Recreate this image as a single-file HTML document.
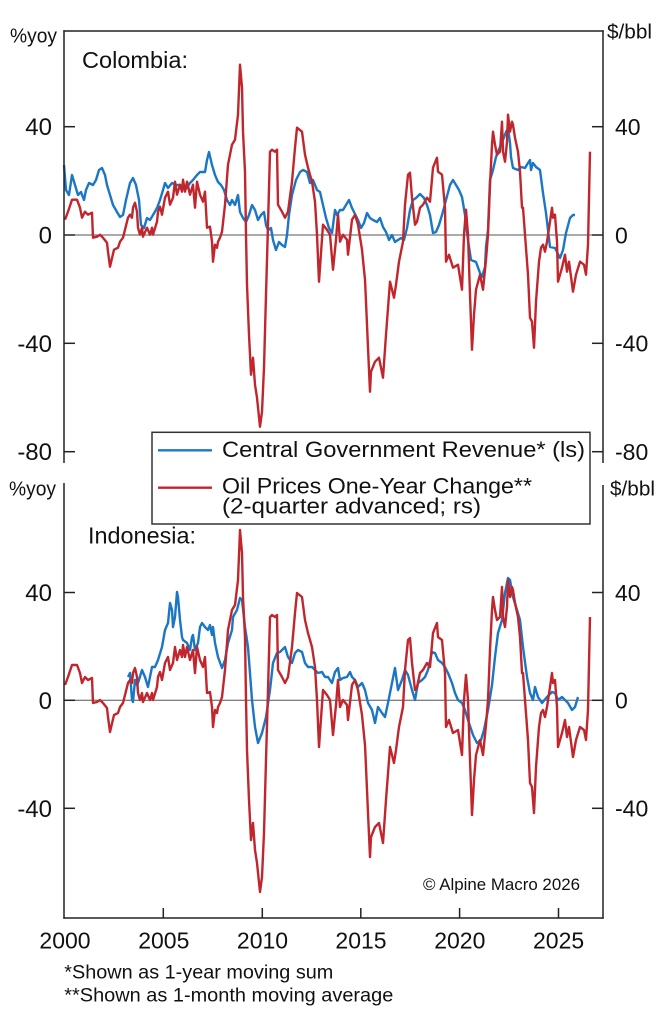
<!DOCTYPE html>
<html>
<head>
<meta charset="utf-8">
<style>
html,body{margin:0;padding:0;background:#fff;}
svg{display:block;}
text{font-family:"Liberation Sans",Arial,sans-serif;fill:#111;}
</style>
</head>
<body>
<svg width="666" height="1024" viewBox="0 0 666 1024" xmlns="http://www.w3.org/2000/svg">
<rect x="0" y="0" width="666" height="1024" fill="#fff"/>

<!-- ===== TOP PANEL (Colombia) ===== -->
<line x1="64" y1="235" x2="603" y2="235" stroke="#555" stroke-width="1"/>

<!-- Colombia blue -->
<polyline fill="none" stroke="#1b77c4" stroke-width="2.4" stroke-linejoin="round" points="64,165 66,190 69,195 72,175 75,185 78,195 81,192 84,200 86,190 89,183 93,185 96,180 99,170 102,168 105,175 107,185 110,195 113,205 117,212 120,217 123,215 126,200 130,183 133,178 136,185 139,200 141,225 144,228 147,218 150,220 153,215 157,208 160,200 163,190 165,183 168,188 172,183 176,185 180,185 185,190 190,183 193,180 197,175 200,172 205,172 207,160 209,152 212,165 215,175 218,182 221,185 224,190 227,200 230,205 232,200 235,205 238,195 240,212 243,218 246,222 249,215 252,205 255,210 258,220 261,215 264,212 266,225 268,230 271,228 273,240 276,250 279,242 282,245 285,247 287,235 289,215 292,195 296,180 300,172 303,170 307,172 310,183 313,180 317,190 320,192 323,205 326,218 329,228 332,233 335,210 337,215 340,210 343,210 346,205 349,200 352,208 355,214 358,220 361,228 364,223 367,213 370,218 373,220 377,222 380,218 383,227 386,232 389,240 392,235 395,242 398,240 401,238 404,240 407,228 410,210 413,200 416,198 420,194 424,198 427,205 430,215 433,233 436,232 439,225 442,215 446,200 450,185 453,180 456,185 459,190 462,197 465,215 468,240 471,260 476,262 480,273 482,277 485,267 486,247 488,230 490,180 493,170 496,157 500,147 503,140 506,132 508,128 510,143 511,157 513,168 518,170 521,167 525,168 528,163 530,160 531,170 533,163 536,167 540,170 543,193 546,213 550,247 555,248 560,258 563,250 566,233 570,218 573,215 575,215"/>

<!-- Oil red (top) -->
<g transform="translate(0,-465.3)">
<polyline fill="none" stroke="#c1262d" stroke-width="2.4" stroke-linejoin="round" points="65,685 68,677 72,665 77,665 80,673 82,683 85,677 88,680 92,678 93,703 97,702 100,700 103,703 107,708 108,717 110,732 114,715 118,713 120,707 123,703 125,695 128,683 130,680 132,683 133,673 135,668 137,677 138,693 140,700 142,693 143,702 147,693 150,700 152,693 153,700 157,687 158,677 160,672 162,680 165,663 168,657 170,670 173,663 175,647 177,660 180,650 182,657 183,645 185,657 187,647 190,660 193,650 195,673 197,647 200,660 203,667 205,657 207,693 210,692 212,707 213,727 215,710 217,713 218,707 220,703 222,697 225,670 228,630 232,610 235,605 238,580 240,530 242,553 243,597 245,637 246,700 247,750 249,800 251,840 253,823 255,850 257,863 260,892 262,877 264,833 266,760 268,690 270,617 272,615 275,617 277,615 278,670 282,677 285,683 288,677 292,647 295,613 297,593 302,597 305,620 308,633 312,647 315,667 317,700 319,747 323,690 327,695 330,700 333,735 336,705 338,680 340,707 343,700 347,705 348,720 352,685 355,680 358,690 362,715 365,745 366,767 368,813 370,857 371,837 375,827 379,823 383,843 386,800 390,747 394,763 396,750 399,727 403,707 405,670 408,640 410,638 412,663 415,690 417,687 420,673 423,670 427,663 430,667 433,633 437,623 438,637 442,640 445,673 446,727 449,720 453,733 458,730 462,755 464,700 466,675 468,700 470,760 472,815 474,780 476,755 480,740 483,755 486,725 488,700 490,650 492,610 493,597 495,610 497,620 500,617 502,587 503,617 505,627 507,607 508,580 510,597 512,587 513,590 515,603 518,617 520,637 522,673 523,673 525,700 528,740 530,783 532,787 534,813 536,767 539,727 541,713 543,710 545,717 547,707 550,687 552,673 553,683 555,680 557,707 558,747 562,733 565,720 567,737 569,727 573,757 576,740 580,727 584,730 586,740 588,710 590,617"/>
</g>

<!-- top axes -->
<g stroke="#222" stroke-width="1.5" fill="none">
<line x1="63.3" y1="31" x2="603.7" y2="31"/>
<line x1="64" y1="30.3" x2="64" y2="463"/>
<line x1="603" y1="30.3" x2="603" y2="463"/>
<line x1="64" y1="126.7" x2="75" y2="126.7"/>
<line x1="64" y1="235" x2="75" y2="235"/>
<line x1="64" y1="343.3" x2="75" y2="343.3"/>
<line x1="64" y1="451.7" x2="75" y2="451.7"/>
<line x1="592" y1="126.7" x2="603" y2="126.7"/>
<line x1="592" y1="235" x2="603" y2="235"/>
<line x1="592" y1="343.3" x2="603" y2="343.3"/>
<line x1="592" y1="451.7" x2="603" y2="451.7"/>
</g>

<text x="10" y="42.5" font-size="20" textLength="47" lengthAdjust="spacingAndGlyphs">%yoy</text>
<text x="607" y="38.5" font-size="20" textLength="45" lengthAdjust="spacingAndGlyphs">$/bbl</text>
<text x="82" y="68" font-size="23" textLength="106" lengthAdjust="spacingAndGlyphs">Colombia:</text>

<g font-size="24" text-anchor="end">
<text x="52" y="135.2">40</text>
<text x="52" y="243.5">0</text>
<text x="52" y="351.8">-40</text>
<text x="52" y="460.2">-80</text>
</g>
<g font-size="23">
<text x="615" y="135">40</text>
<text x="615" y="243.3">0</text>
<text x="615" y="351.6">-40</text>
<text x="615" y="460">-80</text>
</g>

<!-- ===== BOTTOM PANEL (Indonesia) ===== -->
<line x1="64" y1="700.3" x2="603" y2="700.3" stroke="#555" stroke-width="1"/>

<!-- Indonesia blue -->
<polyline fill="none" stroke="#1b77c4" stroke-width="2.4" stroke-linejoin="round" points="128,677 130,673 132,700 133,702 135,680 137,685 138,683 142,670 145,677 148,687 152,667 155,667 158,660 162,647 165,630 168,623 170,603 172,610 173,627 175,617 177,592 178,597 180,620 182,637 183,640 187,643 190,650 192,637 193,635 195,650 198,643 200,627 202,623 205,627 208,630 210,625 212,635 213,627 215,643 218,657 222,668 225,660 228,643 232,630 233,617 237,610 240,598 242,600 245,627 248,647 252,700 255,727 258,743 262,733 266,717 270,690 273,663 277,653 280,652 285,647 288,657 292,663 295,653 298,650 302,652 305,663 308,667 312,667 315,670 318,673 322,672 325,677 328,677 332,683 335,672 338,668 340,680 343,678 347,677 350,672 352,677 355,680 358,687 362,683 365,690 368,703 372,710 375,723 378,707 382,713 385,717 388,703 392,683 395,668 398,690 402,680 405,670 408,675 412,690 415,700 418,683 422,680 425,677 428,670 432,652 435,653 438,660 442,663 445,667 448,673 452,683 455,693 458,700 462,703 465,710 468,720 473,735 477,743 481,740 484,730 488,710 492,685 495,657 498,633 502,620 505,593 508,578 510,580 513,597 517,610 520,620 523,647 527,677 530,693 533,700 535,687 538,697 542,703 547,697 552,692 555,693 558,700 562,697 565,700 568,703 572,710 575,707 578,697"/>

<!-- Oil red (bottom) -->
<polyline fill="none" stroke="#c1262d" stroke-width="2.4" stroke-linejoin="round" points="65,685 68,677 72,665 77,665 80,673 82,683 85,677 88,680 92,678 93,703 97,702 100,700 103,703 107,708 108,717 110,732 114,715 118,713 120,707 123,703 125,695 128,683 130,680 132,683 133,673 135,668 137,677 138,693 140,700 142,693 143,702 147,693 150,700 152,693 153,700 157,687 158,677 160,672 162,680 165,663 168,657 170,670 173,663 175,647 177,660 180,650 182,657 183,645 185,657 187,647 190,660 193,650 195,673 197,647 200,660 203,667 205,657 207,693 210,692 212,707 213,727 215,710 217,713 218,707 220,703 222,697 225,670 228,630 232,610 235,605 238,580 240,530 242,553 243,597 245,637 246,700 247,750 249,800 251,840 253,823 255,850 257,863 260,892 262,877 264,833 266,760 268,690 270,617 272,615 275,617 277,615 278,670 282,677 285,683 288,677 292,647 295,613 297,593 302,597 305,620 308,633 312,647 315,667 317,700 319,747 323,690 327,695 330,700 333,735 336,705 338,680 340,707 343,700 347,705 348,720 352,685 355,680 358,690 362,715 365,745 366,767 368,813 370,857 371,837 375,827 379,823 383,843 386,800 390,747 394,763 396,750 399,727 403,707 405,670 408,640 410,638 412,663 415,690 417,687 420,673 423,670 427,663 430,667 433,633 437,623 438,637 442,640 445,673 446,727 449,720 453,733 458,730 462,755 464,700 466,675 468,700 470,760 472,815 474,780 476,755 480,740 483,755 486,725 488,700 490,650 492,610 493,597 495,610 497,620 500,617 502,587 503,617 505,627 507,607 508,580 510,597 512,587 513,590 515,603 518,617 520,637 522,673 523,673 525,700 528,740 530,783 532,787 534,813 536,767 539,727 541,713 543,710 545,717 547,707 550,687 552,673 553,683 555,680 557,707 558,747 562,733 565,720 567,737 569,727 573,757 576,740 580,727 584,730 586,740 588,710 590,617"/>

<!-- bottom axes -->
<g stroke="#222" stroke-width="1.5" fill="none">
<line x1="64" y1="483" x2="64" y2="918.7"/>
<line x1="603" y1="485" x2="603" y2="918.7"/>
<line x1="63.3" y1="918" x2="603.7" y2="918"/>
<line x1="64" y1="592.5" x2="75" y2="592.5"/>
<line x1="64" y1="700.3" x2="75" y2="700.3"/>
<line x1="64" y1="808.3" x2="75" y2="808.3"/>
<line x1="592" y1="592.5" x2="603" y2="592.5"/>
<line x1="592" y1="700.3" x2="603" y2="700.3"/>
<line x1="592" y1="808.3" x2="603" y2="808.3"/>
<line x1="163.3" y1="908" x2="163.3" y2="918"/>
<line x1="262.3" y1="908" x2="262.3" y2="918"/>
<line x1="360.8" y1="908" x2="360.8" y2="918"/>
<line x1="459.6" y1="908" x2="459.6" y2="918"/>
<line x1="558.5" y1="908" x2="558.5" y2="918"/>
</g>

<text x="9" y="495.5" font-size="20" textLength="47" lengthAdjust="spacingAndGlyphs">%yoy</text>
<text x="610" y="495.5" font-size="20" textLength="45" lengthAdjust="spacingAndGlyphs">$/bbl</text>
<text x="88" y="543.3" font-size="23" textLength="108" lengthAdjust="spacingAndGlyphs">Indonesia:</text>

<g font-size="24" text-anchor="end">
<text x="52" y="601">40</text>
<text x="52" y="708.8">0</text>
<text x="52" y="816.8">-40</text>
</g>
<g font-size="23">
<text x="615" y="600.8">40</text>
<text x="615" y="708.6">0</text>
<text x="615" y="816.6">-40</text>
</g>

<text x="423" y="890" font-size="17" textLength="157" lengthAdjust="spacingAndGlyphs">© Alpine Macro 2026</text>

<!-- x labels -->
<g font-size="23" text-anchor="middle">
<text x="65" y="948.3">2000</text>
<text x="163.8" y="948.3">2005</text>
<text x="262.5" y="948.3">2010</text>
<text x="361" y="948.3">2015</text>
<text x="459.8" y="948.3">2020</text>
<text x="558.6" y="948.3">2025</text>
</g>

<text x="64.3" y="978.3" font-size="19" textLength="269" lengthAdjust="spacingAndGlyphs">*Shown as 1-year moving sum</text>
<text x="64.3" y="1001.7" font-size="19" textLength="329" lengthAdjust="spacingAndGlyphs">**Shown as 1-month moving average</text>

<!-- ===== LEGEND ===== -->
<rect x="152" y="432.3" width="438" height="91.7" fill="#fff" stroke="#333" stroke-width="1.5"/>
<line x1="158" y1="450.3" x2="212" y2="450.3" stroke="#1b77c4" stroke-width="2.4"/>
<line x1="158" y1="487.7" x2="212" y2="487.7" stroke="#c1262d" stroke-width="2.4"/>
<text x="222" y="456.8" font-size="22.5" textLength="363" lengthAdjust="spacingAndGlyphs">Central Government Revenue* (ls)</text>
<text x="222" y="493.3" font-size="22.5" textLength="310" lengthAdjust="spacingAndGlyphs">Oil Prices One-Year Change**</text>
<text x="222" y="513.5" font-size="22.5" textLength="259" lengthAdjust="spacingAndGlyphs">(2-quarter advanced; rs)</text>
</svg>
</body>
</html>
